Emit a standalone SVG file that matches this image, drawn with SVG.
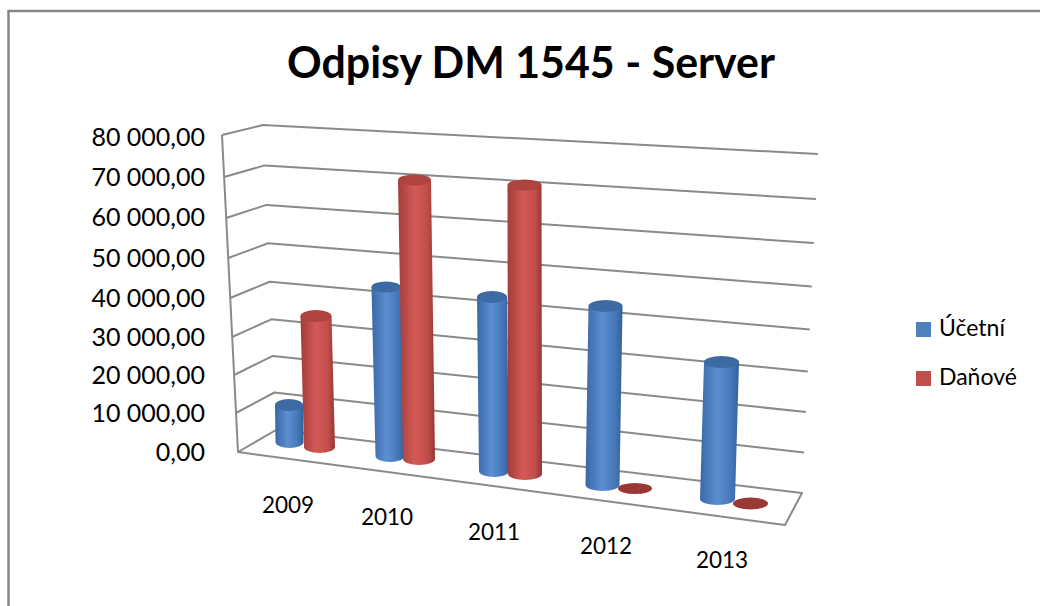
<svg xmlns="http://www.w3.org/2000/svg" width="1040" height="606" viewBox="0 0 1040 606">
<defs>
<linearGradient id="gb" x1="0" y1="0" x2="1" y2="0">
<stop offset="0" stop-color="#3a68a6"/><stop offset="0.45" stop-color="#5b8fd2"/><stop offset="0.8" stop-color="#4577b8"/><stop offset="1" stop-color="#33609a"/>
</linearGradient>
<linearGradient id="gr" x1="0" y1="0" x2="1" y2="0">
<stop offset="0" stop-color="#a23d3a"/><stop offset="0.45" stop-color="#d45a57"/><stop offset="0.8" stop-color="#c04d4a"/><stop offset="1" stop-color="#973633"/>
</linearGradient>
<style>
.g{fill:none;stroke:#8a8a8a;stroke-width:2;stroke-linejoin:round}
.t{font-family:Lato,"Liberation Sans",sans-serif;font-size:22.5px;fill:#000}
.y{font-size:25px}
.l{font-size:23px}
.bb{fill:url(#gb)}.bt{fill:#3e6aa3}
.rb{fill:url(#gr)}.rt{fill:#ae4340}
</style>
</defs>
<rect x="0" y="0" width="1040" height="606" fill="#fff"/>
<rect x="8.5" y="11" width="1040" height="610" fill="none" stroke="#878787" stroke-width="2.5"/>
<text x="531" y="78" text-anchor="middle" font-family="Lato,'Liberation Sans',sans-serif" font-weight="bold" font-size="44" textLength="488" lengthAdjust="spacingAndGlyphs">Odpisy DM 1545 - Server</text>
<g id="grid">
<polyline class="g" points="236,413 274.4,392.5 804,452.5"/>
<polyline class="g" points="234.1,375 272.8,355.9 805.9,412"/>
<polyline class="g" points="232.2,337 271.3,319.3 807.8,371.5"/>
<polyline class="g" points="230.2,298 269.7,281.8 809.8,329.5"/>
<polyline class="g" points="228.2,258 268,243.3 811.8,286.5"/>
<polyline class="g" points="226.2,218 266.4,204.9 813.8,243"/>
<polyline class="g" points="224.1,177 264.7,165.4 815.9,199"/>
<polyline class="g" points="222,135 263,125 818,154"/>
<polygon class="g" points="238,452 276,430 802,493 785,525"/>
<line class="g" x1="222" y1="135" x2="238" y2="452"/>
</g>
<g id="yaxis" class="t y" text-anchor="end">
<text x="205" y="146">80 000,00</text>
<text x="205" y="186">70 000,00</text>
<text x="205" y="226">60 000,00</text>
<text x="205" y="267">50 000,00</text>
<text x="205" y="307">40 000,00</text>
<text x="205" y="346">30 000,00</text>
<text x="205" y="384">20 000,00</text>
<text x="205" y="422">10 000,00</text>
<text x="205" y="461">0,00</text>
</g>
<g id="xaxis" class="t" text-anchor="middle">
<text x="288" y="513">2009</text>
<text x="387" y="525">2010</text>
<text x="494" y="540">2011</text>
<text x="606" y="554">2012</text>
<text x="722" y="568">2013</text>
</g>
<g id="bars">
<g id="u2009"><path class="bb" d="M275,405 L275.5,442 A14 6 0 0 0 303.5,442 L303,405 Z"/><ellipse class="bt" cx="289" cy="405" rx="14" ry="6"/></g>
<g id="d2009"><path class="rb" d="M300.5,316 L304,447 A15.5 6 0 0 0 335,447 L331.5,316 Z"/><ellipse class="rt" cx="316" cy="316" rx="15.5" ry="6"/></g>
<g id="u2010"><path class="bb" d="M371.5,287 L375.5,456 A14.5 6 0 0 0 404.5,456 L400.5,287 Z"/><ellipse class="bt" cx="386" cy="287" rx="14.5" ry="5.5"/></g>
<g id="d2010"><path class="rb" d="M398,180 L403,459 A16 6 0 0 0 435,459 L431,180 Z"/><ellipse class="rt" cx="414.5" cy="180" rx="16.5" ry="5.5"/></g>
<g id="u2011"><path class="bb" d="M477,297 L479,471 A15 6 0 0 0 509,471 L507,297 Z"/><ellipse class="bt" cx="492" cy="297" rx="15" ry="6"/></g>
<g id="d2011"><path class="rb" d="M507.5,185 L508,474 A17 6 0 0 0 542,474 L541.5,185 Z"/><ellipse class="rt" cx="524.5" cy="185" rx="17" ry="5.5"/></g>
<g id="u2012"><path class="bb" d="M588.5,306 L585.5,485 A17 6 0 0 0 619.5,485 L622.5,306 Z"/><ellipse class="bt" cx="605.5" cy="306" rx="17" ry="6"/></g>
<g id="d2012"><ellipse cx="635" cy="488.5" rx="17" ry="5.5" fill="#9a3835"/></g>
<g id="u2013"><path class="bb" d="M704,362 L700,499 A17.5 6 0 0 0 735,499 L739,362 Z"/><ellipse class="bt" cx="721.5" cy="362" rx="17.5" ry="6"/></g>
<g id="d2013"><ellipse cx="750.5" cy="503.5" rx="17.5" ry="6" fill="#9a3835"/></g>
</g>
<g id="legend">
<rect x="916" y="322" width="15" height="15" fill="#4f81bd"/>
<text class="t l" x="939" y="336">Účetní</text>
<rect x="916" y="371" width="15" height="15" fill="#c0504d"/>
<text class="t l" x="939" y="385">Daňové</text>
</g>
</svg>
